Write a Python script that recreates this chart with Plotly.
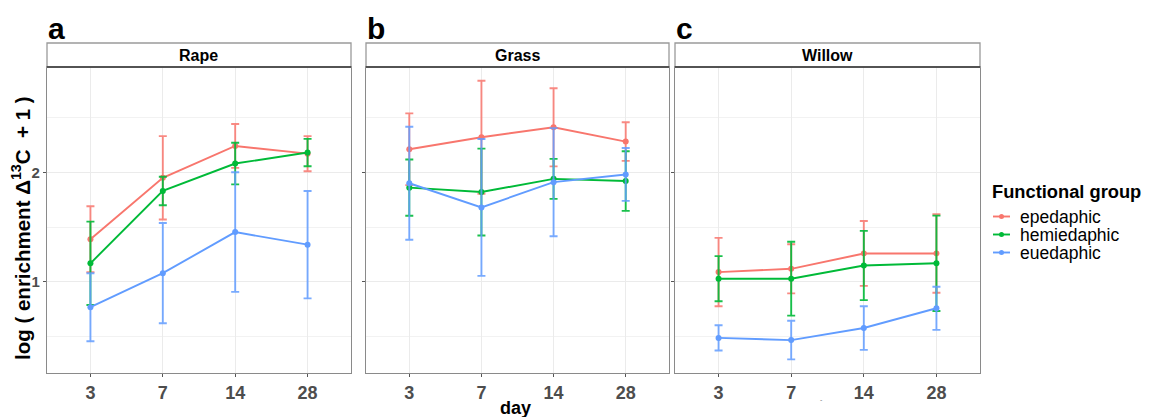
import plotly.graph_objects as go

# The page body has an 8px margin, so the figure is placed at (8, 8)
OFF = 8
W, H = 1150 - OFF, 417 - OFF

days = ['3', '7', '14', '28']
groups = ['epedaphic', 'hemiedaphic', 'euedaphic']
colors = ['#F8766D', '#00BA38', '#619CFF']
err_colors = ['rgba(248,118,109,0.85)', 'rgba(0,186,56,0.9)', 'rgba(97,156,255,0.85)']
panels = ['Rape', 'Grass', 'Willow']
letters = ['a', 'b', 'c']

# Rape
rape_epe_mean = [1.39, 1.95, 2.24, 2.17]
rape_epe_err = [0.30, 0.38, 0.20, 0.16]
rape_hemi_mean = [1.17, 1.83, 2.08, 2.18]
rape_hemi_err = [0.38, 0.13, 0.19, 0.125]
rape_eu_mean = [0.77, 1.08, 1.455, 1.34]
rape_eu_err = [0.31, 0.457, 0.545, 0.49]

# Grass
grass_epe_mean = [2.21, 2.32, 2.41, 2.28]
grass_epe_err = [0.327, 0.515, 0.356, 0.176]
grass_hemi_mean = [1.86, 1.82, 1.94, 1.92]
grass_hemi_err = [0.256, 0.396, 0.182, 0.272]
grass_eu_mean = [1.90, 1.68, 1.91, 1.98]
grass_eu_err = [0.515, 0.624, 0.493, 0.241]

# Willow
willow_epe_mean = [1.09, 1.12, 1.26, 1.26]
willow_epe_err = [0.312, 0.224, 0.296, 0.358]
willow_hemi_mean = [1.03, 1.03, 1.15, 1.17]
willow_hemi_err = [0.206, 0.337, 0.316, 0.435]
willow_eu_mean = [0.49, 0.47, 0.58, 0.76]
willow_eu_err = [0.115, 0.176, 0.199, 0.197]

data = [
    [(rape_epe_mean, rape_epe_err), (rape_hemi_mean, rape_hemi_err), (rape_eu_mean, rape_eu_err)],
    [(grass_epe_mean, grass_epe_err), (grass_hemi_mean, grass_hemi_err), (grass_eu_mean, grass_eu_err)],
    [(willow_epe_mean, willow_epe_err), (willow_hemi_mean, willow_hemi_err), (willow_eu_mean, willow_eu_err)],
]

FONT = 'Liberation Sans, Arial, sans-serif'

# panel pixel extents (window pixels)
px_left = [47, 366, 675]
px_right = [351, 669, 980]
py_top = 67
py_bottom = 373
strip_top = 43


def fx(p):
    return (p - OFF) / W


def fy(p):
    return 1 - (p - OFF) / H


fig = go.Figure()

for pi in range(3):
    xa = 'x' if pi == 0 else f'x{pi+1}'
    ya = 'y' if pi == 0 else f'y{pi+1}'
    for gi in range(3):
        mean, err = data[pi][gi]
        fig.add_trace(go.Scatter(
            x=days, y=mean, mode='lines+markers', name=groups[gi],
            legendgroup=groups[gi], showlegend=False,
            line=dict(color=colors[gi], width=1.9),
            marker=dict(color=colors[gi], size=6),
            error_y=dict(type='data', array=err, visible=True, color=err_colors[gi],
                         thickness=1.9, width=4),
            xaxis=xa, yaxis=ya,
        ))

layout = dict(
    width=W, height=H,
    margin=dict(l=0, r=0, t=0, b=0),
    paper_bgcolor='white', plot_bgcolor='white',
    font=dict(family=FONT, color='black'),
    showlegend=False,
    shapes=[], annotations=[],
)

for pi in range(3):
    xk = 'xaxis' if pi == 0 else f'xaxis{pi+1}'
    yk = 'yaxis' if pi == 0 else f'yaxis{pi+1}'
    layout[xk] = dict(
        domain=[fx(px_left[pi]), fx(px_right[pi])],
        anchor='y' if pi == 0 else f'y{pi+1}',
        type='category', categoryorder='array', categoryarray=days,
        range=[-0.6, 3.6],
        showgrid=True, gridcolor='#EBEBEB', gridwidth=1,
        showline=True, linecolor='#8A8A8A', linewidth=1.3, mirror=True,
        ticks='outside', ticklen=3, tickcolor='#555555', tickwidth=1,
        tickfont=dict(size=18, family=FONT, color='#4D4D4D', weight='bold'),
        zeroline=False,
    )
    ydict = dict(
        domain=[fy(py_bottom), fy(py_top)],
        anchor='x' if pi == 0 else f'x{pi+1}',
        range=[0.17, 2.96],
        tickmode='array', tickvals=[1, 2],
        showticklabels=(pi == 0),
        showgrid=True, gridcolor='#EBEBEB', gridwidth=1,
        minor=dict(tickmode='array', tickvals=[0.5, 1.5, 2.5], showgrid=True,
                   gridcolor='#F2F2F2', gridwidth=1, ticks=''),
        showline=True, linecolor='#8A8A8A', linewidth=1.3, mirror=True,
        ticks='outside', ticklen=3, tickcolor='#555555', tickwidth=1,
        tickfont=dict(size=15, family=FONT, color='#4D4D4D', weight='bold'),
        zeroline=False,
    )
    if pi == 0:
        ydict['ticktext'] = ['1', '2']
    layout[yk] = ydict
    # strip box
    layout['shapes'].append(dict(
        type='rect', xref='paper', yref='paper',
        x0=fx(px_left[pi]), x1=fx(px_right[pi]), y0=fy(py_top), y1=fy(strip_top),
        line=dict(color='#9A9A9A', width=1.3), fillcolor='white', layer='above'))
    layout['shapes'].append(dict(
        type='line', xref='paper', yref='paper',
        x0=fx(px_left[pi]), x1=fx(px_right[pi]), y0=fy(py_top), y1=fy(py_top),
        line=dict(color='#333333', width=1.5), layer='above'))
    layout['annotations'].append(dict(
        text=f'<b>{panels[pi]}</b>', xref='paper', yref='paper',
        x=(fx(px_left[pi]) + fx(px_right[pi])) / 2, y=fy((strip_top + py_top) / 2),
        xanchor='center', yanchor='middle', showarrow=False,
        font=dict(size=16, family=FONT, color='black')))
    layout['annotations'].append(dict(
        text=f'<b>{letters[pi]}</b>', xref='paper', yref='paper',
        x=fx(px_left[pi] - 1), y=fy(29), xanchor='left', yanchor='middle',
        showarrow=False, font=dict(size=30, family=FONT, color='black')))

# legend (drawn with the group names and colours above)
leg_x = 993
leg_title_y = 191
leg_item_y = [216.5, 234.5, 252.5]
layout['annotations'].append(dict(
    text='<b>Functional group</b>', xref='paper', yref='paper',
    x=fx(leg_x - 2), y=fy(leg_title_y), xanchor='left', yanchor='middle',
    showarrow=False, borderpad=0, font=dict(size=18.3, family=FONT, color='black')))
for gi in range(3):
    yy = fy(leg_item_y[gi])
    layout['shapes'].append(dict(
        type='line', xref='paper', yref='paper',
        x0=fx(leg_x), x1=fx(leg_x + 17), y0=yy, y1=yy,
        line=dict(color=colors[gi], width=1.9)))
    layout['shapes'].append(dict(
        type='circle', xref='paper', yref='paper',
        x0=fx(leg_x + 8.5 - 2.5), x1=fx(leg_x + 8.5 + 2.5),
        y0=yy - 2.5 / H, y1=yy + 2.5 / H,
        line=dict(color=colors[gi], width=0), fillcolor=colors[gi]))
    layout['annotations'].append(dict(
        text=groups[gi], xref='paper', yref='paper',
        x=fx(leg_x + 26), y=yy, xanchor='left', yanchor='middle',
        showarrow=False, borderpad=0, font=dict(size=17.5, family=FONT, color='black')))

layout['annotations'].append(dict(
    text='<b>log ( enrichment Δ<sup>13</sup>C  + 1 )</b>', xref='paper', yref='paper',
    x=fx(21), y=fy(228), xanchor='center', yanchor='middle', textangle=-90,
    showarrow=False, font=dict(size=20.5, family=FONT, color='black')))
layout['annotations'].append(dict(
    text='<b>day</b>', xref='paper', yref='paper',
    x=fx(515), y=fy(408), xanchor='center', yanchor='middle',
    showarrow=False, font=dict(size=18, family=FONT, color='black')))
layout['annotations'].append(dict(
    text='-', xref='paper', yref='paper',
    x=fx(821), y=fy(399), xanchor='center', yanchor='middle',
    showarrow=False, font=dict(size=7, family=FONT, color='#777777')))

fig.update_layout(**layout)
fig.write_html('out.html')
